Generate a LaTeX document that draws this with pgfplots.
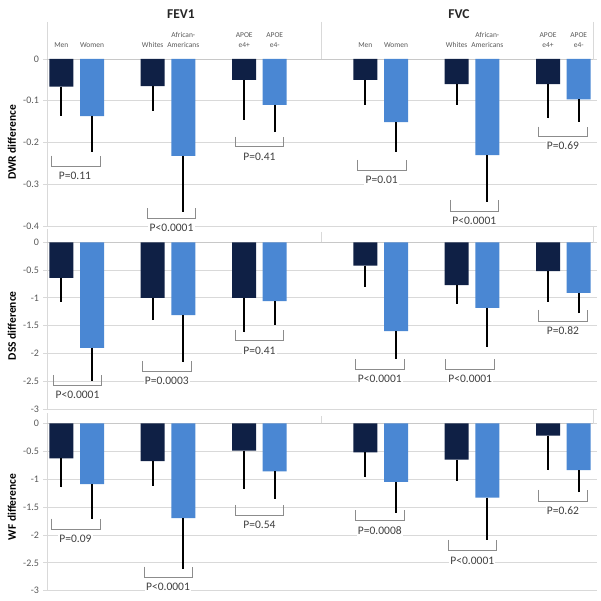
\documentclass[border=0pt]{standalone}
\usepackage{fontspec}
\setmainfont{Carlito}
\usepackage{pgfplots}
\usepackage{pgfplotstable}
\pgfplotsset{compat=1.18}
\definecolor{darkbar}{HTML}{0F2045}
\definecolor{lightbar}{HTML}{4A87D3}
\definecolor{gridc}{HTML}{D9D9D9}
\definecolor{zeroc}{HTML}{C8C8C8}
\definecolor{txt}{HTML}{595959}
\definecolor{ptxt}{HTML}{404040}
\definecolor{brkc}{HTML}{8C8C8C}

% Row 1: DWR
\pgfplotstableread{
x y e
61.3 -0.066 0.070
152.7 -0.065 0.059
244.2 -0.050 0.095
365.3 -0.050 0.060
456.7 -0.060 0.050
548.0 -0.060 0.082
}\dwrdark
\pgfplotstableread{
x y e
92.0 -0.137 0.086
183.3 -0.232 0.134
274.7 -0.110 0.066
396.0 -0.151 0.071
487.3 -0.230 0.112
578.7 -0.097 0.053
}\dwrlight
% Row 2: DSS
\pgfplotstableread{
x y e
61.3 -0.64 0.43
152.7 -1.00 0.40
244.2 -1.00 0.62
365.3 -0.42 0.38
456.7 -0.77 0.34
548.0 -0.52 0.55
}\dssdark
\pgfplotstableread{
x y e
92.0 -1.90 0.60
183.3 -1.31 0.85
274.7 -1.06 0.43
396.0 -1.60 0.50
487.3 -1.18 0.71
578.7 -0.91 0.37
}\dsslight
% Row 3: WF
\pgfplotstableread{
x y e
61.3 -0.63 0.52
152.7 -0.68 0.44
244.2 -0.49 0.69
365.3 -0.52 0.45
456.7 -0.65 0.38
548.0 -0.22 0.62
}\wfdark
\pgfplotstableread{
x y e
92.0 -1.09 0.63
183.3 -1.70 0.91
274.7 -0.86 0.49
396.0 -1.05 0.55
487.3 -1.33 0.76
578.7 -0.84 0.40
}\wflight

\pgfplotsset{
 row/.style={scale only axis, width=546pt, xmin=47, xmax=593, anchor=south west, clip=false,
   axis line style={draw=none}, xtick=\empty, ymajorgrids,
   grid style={draw=gridc, line width=0.8pt},
   tick align=outside, major tick length=3.5pt,
   ytick style={draw=gridc, line width=0.8pt},
   yticklabel style={font=\fontsize{10}{12}\selectfont, text=txt, xshift=-1pt},
 },
 barp/.style={ybar, bar shift=0pt, bar width=24, fill=#1, draw=none,
   error bars/.cd, y dir=minus, y explicit, error mark=none,
   error bar style={line width=2pt, draw=black, fill=none}},
}
\newcommand{\pfont}{\fontsize{11.5}{13}\selectfont}
\newcommand{\brk}[4]{\draw[brkc, line width=0.8pt] (axis cs:#1,#3) -- (axis cs:#1,#4) -- (axis cs:#2,#4) -- (axis cs:#2,#3);}
\newcommand{\pval}[3]{\node[fill=white, inner sep=1.2pt, text=ptxt, font=\pfont] at (axis cs:#1,#2) {#3};}
\newcommand{\cat}[3]{\node[anchor=base, text=txt, font=\fontsize{7.5}{9}\selectfont, inner sep=0pt] at (#1pt,#2pt) {#3};}

\begin{document}
\begin{tikzpicture}
\useasboundingbox (0,0) rectangle (601pt,-601pt);

% ---------- Row 1 : DWR ----------
\begin{axis}[row, at={(47pt,-226pt)}, height=167pt, ymin=-0.4, ymax=0,
  ytick={-0.4,-0.3,-0.2,-0.1,0}, yticklabels={-0.4,-0.3,-0.2,-0.1,0}]
\draw[gridc, line width=0.8pt] (axis cs:47,-0.4) -- (axis cs:47,0);
\draw[zeroc, line width=0.8pt] (axis cs:47,0) -- (axis cs:593,0);
\addplot[barp=darkbar] table[x=x, y=y, y error=e] {\dwrdark};
\addplot[barp=lightbar] table[x=x, y=y, y error=e] {\dwrlight};
\brk{51}{100}{-0.2316}{-0.258}
\pval{75}{-0.2795}{P=0.11}
\brk{147}{195.7}{-0.3576}{-0.3816}
\pval{171.5}{-0.4055}{P<0.0001}
\brk{235.3}{283.7}{-0.1861}{-0.2101}
\pval{259.5}{-0.234}{P=0.41}
\brk{357.3}{406}{-0.2419}{-0.2659}
\pval{381.7}{-0.2905}{P=0.01}
\brk{450}{498.7}{-0.3377}{-0.3641}
\pval{474.3}{-0.388}{P<0.0001}
\brk{538.7}{587.3}{-0.1622}{-0.1861}
\pval{563}{-0.2084}{P=0.69}
\end{axis}

% ---------- Row 2 : DSS ----------
\begin{axis}[row, at={(47pt,-409pt)}, height=166.7pt, ymin=-3, ymax=0,
  ytick={-3,-2.5,-2,-1.5,-1,-0.5,0}, yticklabels={-3,-2.5,-2,-1.5,-1,-0.5,0}]
\draw[gridc, line width=0.8pt] (axis cs:47,-3) -- (axis cs:47,0);
\draw[zeroc, line width=0.8pt] (axis cs:47,0) -- (axis cs:593,0);
\addplot[barp=darkbar] table[x=x, y=y, y error=e] {\dssdark};
\addplot[barp=lightbar] table[x=x, y=y, y error=e] {\dsslight};
\brk{53.3}{101.7}{-2.387}{-2.567}
\pval{77.5}{-2.746}{P<0.0001}
\brk{142.7}{191}{-2.135}{-2.315}
\pval{166.8}{-2.495}{P=0.0003}
\brk{235.3}{283.7}{-1.577}{-1.770}
\pval{259.5}{-1.950}{P=0.41}
\brk{355.3}{404.3}{-2.104}{-2.284}
\pval{379.8}{-2.464}{P<0.0001}
\brk{445.7}{494.7}{-2.104}{-2.284}
\pval{470.2}{-2.464}{P<0.0001}
\brk{538.7}{587.3}{-1.218}{-1.415}
\pval{563}{-1.595}{P=0.82}
\end{axis}

% ---------- Row 3 : WF ----------
\begin{axis}[row, at={(47pt,-590.7pt)}, height=167.4pt, ymin=-3, ymax=0,
  ytick={-3,-2.5,-2,-1.5,-1,-0.5,0}, yticklabels={-3,-2.5,-2,-1.5,-1,-0.5,0}]
\draw[gridc, line width=0.8pt] (axis cs:47,-3) -- (axis cs:47,0);
\draw[zeroc, line width=0.8pt] (axis cs:47,0) -- (axis cs:593,0);
\addplot[barp=darkbar] table[x=x, y=y, y error=e] {\wfdark};
\addplot[barp=lightbar] table[x=x, y=y, y error=e] {\wflight};
\brk{51}{100}{-1.710}{-1.900}
\pval{75.5}{-2.073}{P=0.09}
\brk{144}{192.3}{-2.570}{-2.760}
\pval{168}{-2.939}{P<0.0001}
\brk{235.3}{283.7}{-1.464}{-1.649}
\pval{259.5}{-1.823}{P=0.54}
\brk{355.3}{404.3}{-1.554}{-1.746}
\pval{379.8}{-1.918}{P=0.0008}
\brk{448}{496.7}{-2.091}{-2.283}
\pval{472.3}{-2.462}{P<0.0001}
\brk{538.7}{587.3}{-1.195}{-1.392}
\pval{563}{-1.566}{P=0.62}
\end{axis}

% ---------- frame pieces above the zero lines ----------
\draw[gridc, line width=0.8pt] (47pt,-22pt) -- (47pt,-59pt);
\draw[gridc, line width=0.8pt] (321pt,-22pt) -- (321pt,-59pt);
\draw[gridc, line width=0.8pt] (593pt,-22pt) -- (593pt,-59pt);
\draw[gridc, line width=0.8pt] (47pt,-229pt) -- (47pt,-242.3pt);
\draw[gridc, line width=0.8pt] (321pt,-232pt) -- (321pt,-242.3pt);
\draw[gridc, line width=0.8pt] (593pt,-226pt) -- (593pt,-242.3pt);
\draw[gridc, line width=0.8pt] (47pt,-413pt) -- (47pt,-423.3pt);
\draw[gridc, line width=0.8pt] (321pt,-416pt) -- (321pt,-423.3pt);
\draw[gridc, line width=0.8pt] (593pt,-409pt) -- (593pt,-423.3pt);

% ---------- titles ----------
\node[font=\bfseries\fontsize{13.5}{15}\selectfont, text=black!85] at (181pt,-14pt) {FEV1};
\node[font=\bfseries\fontsize{13.5}{15}\selectfont, text=black!85] at (459pt,-14pt) {FVC};

% ---------- category labels ----------
\cat{61.3}{-48}{Men}
\cat{92}{-48}{Women}
\cat{152.7}{-48}{Whites}
\cat{183.3}{-38}{African-}
\cat{183.3}{-48}{Americans}
\cat{244.2}{-38}{APOE}
\cat{244.2}{-48}{e4+}
\cat{274.7}{-38}{APOE}
\cat{274.7}{-48}{e4-}
\cat{365.3}{-48}{Men}
\cat{396}{-48}{Women}
\cat{456.7}{-48}{Whites}
\cat{487.3}{-38}{African-}
\cat{487.3}{-48}{Americans}
\cat{548}{-38}{APOE}
\cat{548}{-48}{e4+}
\cat{578.7}{-38}{APOE}
\cat{578.7}{-48}{e4-}

% ---------- y labels ----------
\node[rotate=90, font=\bfseries\fontsize{11.5}{13}\selectfont] at (12pt,-142.5pt) {DWR difference};
\node[rotate=90, font=\bfseries\fontsize{11.5}{13}\selectfont] at (12pt,-325.7pt) {DSS difference};
\node[rotate=90, font=\bfseries\fontsize{11.5}{13}\selectfont] at (12pt,-507pt) {WF difference};
\end{tikzpicture}
\end{document}
